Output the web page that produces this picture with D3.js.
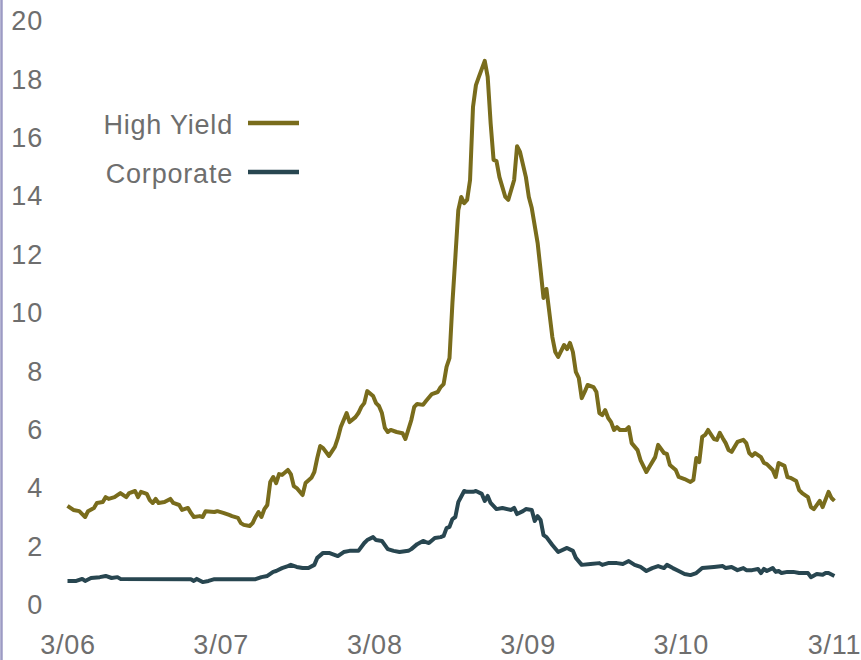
<!DOCTYPE html>
<html>
<head>
<meta charset="utf-8">
<script src="https://cdn.jsdelivr.net/npm/d3@7"></script>
<style>
  html, body { margin: 0; padding: 0; background: #fff; }
  svg { display: block; }
</style>
</head>
<body>
<svg id="chart" width="861" height="660"></svg>
<script>
// ---- data (weekly observations, week index counted from early March 2006) ----
const seriesNames = ["High Yield", "Corporate"];

const hyWeeks = [0,2,4,5,6,7,9,10,12,13,14,16,18,20,21,23,24,25,27,28,29,30,31,33,35,36,38,39,41,42,43,45,46,47,50,51,53,55,56,58,59,60,62,63,64,65,66,67,68,69,70,71,72,73,75,76,77,78,80,81,83,84,85,86,87,89,91,92,93,95,96,98,99,100,101,102,104,105,106,107,108,109,110,112,114,115,117,118,119,121,122,124,126,127,128,129,130,131,132,133,134,135,136,137,138,139,140,142,143,144,145,146,147,149,150,152,153,154,156,157,158,160,161,162,163,164,165,166,167,169,170,171,172,173,174,175,176,177,179,180,181,182,183,184,185,186,187,188,190,191,192,194,195,197,198,200,201,203,204,205,207,208,210,212,213,214,215,216,217,218,220,221,222,223,224,225,226,228,230,231,232,233,234,236,237,238,240,241,242,244,245,246,248,249,250,252,253,254,256,257,259,260,261];
const hyValues = [3.36,3.22,3.18,3.08,2.98,3.18,3.29,3.46,3.49,3.66,3.60,3.66,3.80,3.66,3.80,3.87,3.66,3.84,3.77,3.56,3.46,3.60,3.46,3.49,3.60,3.46,3.39,3.22,3.29,3.12,2.98,3.01,2.98,3.18,3.15,3.18,3.12,3.05,3.01,2.95,2.77,2.71,2.67,2.77,2.98,3.15,2.98,3.25,3.39,4.18,4.35,4.14,4.45,4.42,4.59,4.45,4.04,3.97,3.73,4.14,4.32,4.52,5.00,5.41,5.34,5.07,5.38,5.68,6.06,6.54,6.23,6.40,6.54,6.75,6.88,7.29,7.12,6.88,6.78,6.54,6.03,5.89,5.96,5.89,5.85,5.65,6.30,6.75,6.85,6.82,6.95,7.19,7.26,7.43,7.53,8.12,8.42,10.31,11.88,13.49,13.94,13.73,13.84,14.52,17.02,17.77,18.05,18.60,18.05,16.47,15.21,15.17,14.62,13.94,13.84,14.52,15.68,15.48,14.62,13.94,13.56,12.36,11.44,10.48,10.79,9.97,9.14,8.63,8.46,8.87,8.73,8.94,8.63,7.95,7.74,7.05,7.26,7.50,7.43,7.26,6.54,6.47,6.64,6.37,6.23,5.96,6.06,5.96,5.96,6.06,5.51,5.27,4.93,4.52,4.69,5.03,5.45,5.17,5.14,4.76,4.59,4.35,4.28,4.18,4.25,5.00,4.86,5.72,5.79,5.96,5.65,5.62,5.86,5.68,5.51,5.27,5.21,5.55,5.62,5.51,5.17,5.07,5.17,5.03,4.83,4.79,4.59,4.35,4.83,4.73,4.35,4.32,4.21,3.90,3.80,3.66,3.32,3.25,3.53,3.32,3.84,3.63,3.53];

const corpWeeks = [0,3,5,6,8,11,13,15,17,18,42,43,44,46,48,50,64,66,68,70,71,73,75,76,78,80,82,84,85,87,89,92,94,96,99,101,102,104,105,107,109,111,113,116,117,119,121,122,123,125,127,128,129,130,131,132,133,135,136,138,139,141,142,143,144,146,148,151,152,153,155,156,158,159,160,161,162,163,165,167,170,172,173,175,178,181,182,184,187,189,191,193,195,197,199,201,203,204,206,208,210,212,214,216,220,223,224,226,228,230,231,233,235,236,237,238,240,241,242,243,245,247,249,252,253,255,257,258,259,261];
const corpValues = [0.79,0.79,0.86,0.79,0.89,0.92,0.96,0.89,0.92,0.86,0.85,0.79,0.86,0.75,0.79,0.85,0.85,0.92,0.96,1.10,1.13,1.23,1.30,1.34,1.27,1.23,1.23,1.34,1.58,1.75,1.75,1.64,1.78,1.82,1.82,2.09,2.19,2.29,2.19,2.16,1.88,1.82,1.78,1.82,1.88,2.05,2.16,2.12,2.09,2.26,2.29,2.33,2.60,2.64,2.91,2.98,3.49,3.87,3.84,3.84,3.87,3.77,3.53,3.70,3.46,3.25,3.29,3.22,3.29,3.08,3.18,3.25,3.22,2.84,3.01,2.88,2.36,2.29,2.02,1.78,1.92,1.82,1.58,1.34,1.37,1.40,1.34,1.40,1.40,1.37,1.47,1.34,1.27,1.13,1.23,1.30,1.23,1.34,1.23,1.13,1.03,0.99,1.06,1.23,1.27,1.30,1.23,1.27,1.16,1.23,1.16,1.16,1.20,1.06,1.20,1.13,1.23,1.10,1.13,1.06,1.10,1.10,1.06,1.06,0.92,1.03,1.00,1.06,1.06,0.96];

const xTickLabels = ["3/06", "3/07", "3/08", "3/09", "3/10", "3/11"];
const xTickYears = [2006, 2007, 2008, 2009, 2010, 2011];
const yTicks = [0, 2, 4, 6, 8, 10, 12, 14, 16, 18, 20];

// ---- styles ----
const colors = { "High Yield": "#796c1c", "Corporate": "#284650" };
const textColor = "#6e6e6e";
const fontFamily = "'Liberation Sans', Arial, Helvetica, sans-serif";
const fontSize = 27;
const letterSpacing = "0.8px";

const startDate = new Date(2006, 2, 1);
const weekToDate = w => d3.timeDay.offset(startDate, w * 7);

const svg = d3.select("#chart");

const x = d3.scaleTime()
  .domain([new Date(2006, 2, 1), new Date(2011, 2, 1)])
  .range([67.5, 834]);
const y = d3.scaleLinear().domain([0, 20]).range([604, 20]);

// left axis line
svg.append("line")
  .attr("x1", 1.5).attr("x2", 1.5)
  .attr("y1", 0).attr("y2", 660)
  .attr("stroke", "#9d9bc4").attr("stroke-width", 2.5);

// y axis labels
const yAxis = d3.axisLeft(y).tickValues(yTicks).tickSize(0).tickPadding(0).tickFormat(d3.format("d"));
const yG = svg.append("g").attr("transform", "translate(43,0)").call(yAxis);
yG.select(".domain").remove();
yG.selectAll("text")
  .attr("fill", textColor)
  .attr("font-family", fontFamily)
  .attr("font-size", fontSize)
  .attr("letter-spacing", letterSpacing)
  .attr("dy", "0.36em");

// x axis labels
const xTickDates = xTickYears.map(yr => new Date(yr, 2, 1));
const xAxis = d3.axisBottom(x).tickValues(xTickDates).tickSize(0).tickPadding(0)
  .tickFormat((d, i) => xTickLabels[i]);
const xG = svg.append("g").attr("transform", "translate(0,635)").call(xAxis);
xG.select(".domain").remove();
xG.selectAll("text")
  .attr("fill", textColor)
  .attr("font-family", fontFamily)
  .attr("font-size", fontSize)
  .attr("letter-spacing", letterSpacing)
  .attr("dy", "0.72em");

// lines
const line = d3.line()
  .x(d => x(weekToDate(d.w)))
  .y(d => y(d.v));

const hyData = hyWeeks.map((w, i) => ({ w, v: hyValues[i] }));
const corpData = corpWeeks.map((w, i) => ({ w, v: corpValues[i] }));

svg.append("path").datum(corpData)
  .attr("d", line).attr("fill", "none")
  .attr("stroke", colors["Corporate"]).attr("stroke-width", 4)
  .attr("stroke-linejoin", "round");

svg.append("path").datum(hyData)
  .attr("d", line).attr("fill", "none")
  .attr("stroke", colors["High Yield"]).attr("stroke-width", 4)
  .attr("stroke-linejoin", "round");

// legend
const legendY = [124, 173];
const legend = svg.append("g");
seriesNames.forEach((name, i) => {
  legend.append("text")
    .attr("x", 233).attr("y", legendY[i])
    .attr("dy", "0.36em")
    .attr("text-anchor", "end")
    .attr("fill", textColor)
    .attr("font-family", fontFamily)
    .attr("font-size", fontSize)
    .attr("letter-spacing", letterSpacing)
    .text(name);
  legend.append("line")
    .attr("x1", 248).attr("x2", 299)
    .attr("y1", legendY[i] - 1).attr("y2", legendY[i] - 1)
    .attr("stroke", colors[name]).attr("stroke-width", 4.5);
});
</script>
</body>
</html>
